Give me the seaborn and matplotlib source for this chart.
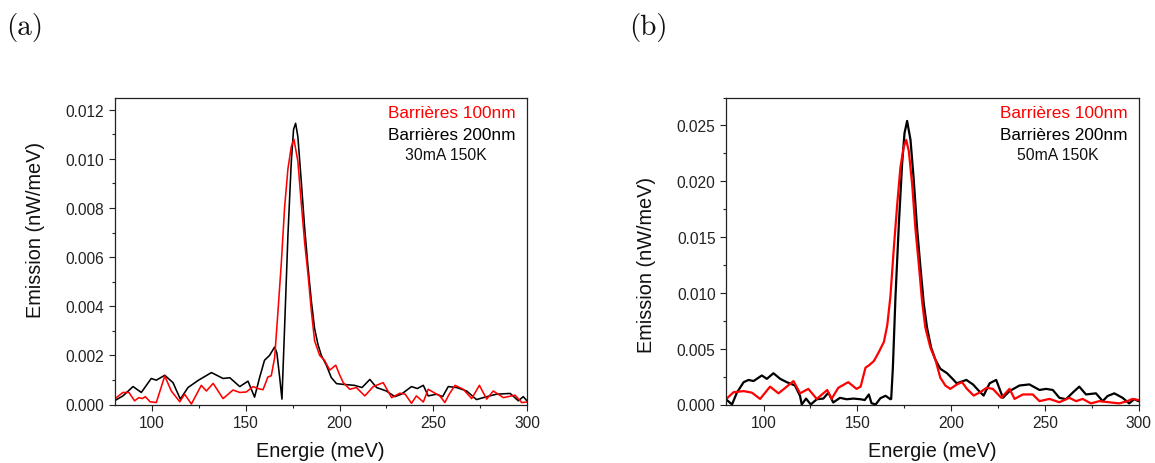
import numpy as np
import pandas as pd
import matplotlib
matplotlib.use("Agg")
import matplotlib.pyplot as plt
import seaborn as sns
from matplotlib.ticker import MultipleLocator, FormatStrFormatter

# ---------------- data ----------------
# Panel (a) 30mA 150K
a_e_200 = [80, 84.5, 89.9, 94.3, 99.6, 102.3, 106.8, 111.2, 115.1, 119.2, 124.6, 131.7, 137.9, 141.5,
           146.8, 151.2, 154.7, 157.4, 160, 162.7, 165.4, 166.6, 168.1, 169.3, 170.7, 172.5, 174.3,
           175.5, 176.6, 177.8, 179.6, 181.4, 183.2, 185, 186.7, 188.5, 190.3, 193, 195.6, 198.4, 202,
           208, 212, 216.2, 219.8, 225, 229.5, 233, 238.4, 241.5, 244.7, 247.3, 251.8, 255, 258, 262.5,
           267.8, 273.1, 278.5, 283.8, 291, 295.4, 298, 300]
a_v_200 = [0.00015, 0.00035, 0.00073, 0.00049, 0.00106, 0.00099, 0.00119, 0.00089, 0.00022, 0.00069,
           0.00098, 0.0013, 0.00106, 0.00109, 0.00073, 0.00095, 0.0003, 0.0011, 0.0018, 0.002, 0.00234,
           0.0021, 0.0011, 0.00022, 0.0031, 0.0069, 0.0099, 0.0112, 0.01145, 0.0109, 0.0091, 0.0072,
           0.0056, 0.0042, 0.0031, 0.00245, 0.002, 0.0016, 0.0011, 0.00085, 0.00082, 0.00078, 0.00069,
           0.00102, 0.00069, 0.00055, 0.00032, 0.00042, 0.00073, 0.00065, 0.00078, 0.00035, 0.00042,
           0.00032, 0.00073, 0.00069, 0.00055, 0.0002, 0.00032, 0.00042, 0.00045, 0.00015, 0.00032, 0.00015]
a_e_100 = [80, 84.5, 87.7, 90.7, 93, 94.8, 96.4, 99, 102.3, 106.8, 110.3, 114.8, 117.4, 121, 126.3, 129,
           132.6, 137.9, 143.2, 146.8, 150.3, 153.9, 156.5, 159.2, 161.8, 163.6, 165.4, 167.2, 169,
           170.7, 172.5, 174.3, 175.7, 177.8, 179.6, 181.4, 183.2, 185, 186.7, 189.4, 192, 194.8, 198,
           200.1, 202, 205.5, 209, 213.5, 218, 223.3, 227.8, 232.2, 235, 238.4, 241, 244.7, 247.3, 250.9,
           253.5, 256.2, 258.5, 261.6, 266, 270.5, 274.6, 278.5, 282, 287.4, 293.6, 297.2, 300]
a_v_100 = [0.00022, 0.00049, 0.00049, 0.00015, 0.00028, 0.00024, 0.00032, 0.00011, 0.00008, 0.00116,
           0.00055, 0.00011, 0.00042, 0.00002, 0.00078, 0.00055, 0.00086, 0.00024, 0.00059, 0.00049,
           0.00051, 0.00073, 0.00065, 0.0006, 0.00112, 0.00117, 0.0019, 0.0038, 0.0058, 0.008, 0.0096,
           0.0105, 0.0108, 0.0099, 0.0082, 0.0066, 0.0053, 0.0038, 0.0026, 0.002, 0.0018, 0.0014, 0.0016,
           0.0012, 0.00089, 0.00062, 0.00069, 0.00035, 0.00073, 0.00089, 0.00028, 0.00046, 0.00042,
           0.00005, 0.00035, 0.0001, 0.00062, 0.00046, 0.00035, 0.00008, 0.00042, 0.00078, 0.00062,
           0.00024, 0.00078, 0.00022, 0.00055, 0.00028, 0.00038, 0.00008, 0.0001]

# Panel (b) 50mA 150K
b_e_200 = [80, 83.2, 85.8, 89.4, 92, 94.7, 99.1, 101.8, 105.3, 108.9, 112.4, 116.8, 119.5, 120.4, 122.7,
           125.2, 128.4, 131.9, 134.6, 137.2, 140.8, 144.3, 148, 151.8, 154, 156.2, 157.6, 159.8, 162.4,
           165.1, 167.7, 168.1, 169, 170.4, 172.2, 173.9, 175.2, 176.6, 178.4, 180.1, 181.9, 183.7,
           185.5, 187.2, 189.4, 191.7, 194.3, 197.9, 201.4, 203, 208.2, 211.7, 215, 217.4, 220.6, 224.1,
           227.7, 231.2, 236.5, 241.8, 247.2, 250.7, 254.3, 257.8, 261.3, 264.9, 268.4, 272, 277.3,
           280.9, 283.5, 287.1, 291.5, 295, 297.7, 300]
b_v_200 = [0.00047, 0.0, 0.00106, 0.002, 0.0022, 0.0021, 0.0026, 0.0023, 0.0028, 0.0023, 0.002, 0.0017,
           0.00076, 0.0, 0.00053, 0.0, 0.00047, 0.00053, 0.00106, 0.00018, 0.0006, 0.00047, 0.00053,
           0.00047, 0.0004, 0.0009, 0.00012, 0.0, 0.00057, 0.00078, 0.00047, 0.0005, 0.0033, 0.0097,
           0.0162, 0.0215, 0.0243, 0.0254, 0.0237, 0.0202, 0.0158, 0.0123, 0.009, 0.0069, 0.0051, 0.004,
           0.0032, 0.0028, 0.0022, 0.0019, 0.0022, 0.0018, 0.0012, 0.0008, 0.0019, 0.0022, 0.0006, 0.0012,
           0.0017, 0.0018, 0.0013, 0.0014, 0.0013, 0.0006, 0.00047, 0.00106, 0.0016, 0.0009, 0.001,
           0.0003, 0.00076, 0.001, 0.0006, 0.0001, 0.00047, 0.0003]
b_e_100 = [80, 84, 89.4, 93.8, 98.2, 103.5, 108, 112.4, 116, 119.5, 123.9, 128.4, 134, 136.3, 139.9, 145.2,
           149.6, 151.8, 154.4, 156.2, 158.9, 161.5, 164.2, 166, 167.7, 169.5, 171.3, 173, 174.8, 176.1,
           177.5, 179.3, 181, 182.8, 184.6, 186.3, 189, 191.7, 194.3, 197, 199.6, 203.2, 205.9, 208.5,
           212.1, 215.6, 219, 222.3, 226.8, 231.2, 233.9, 238.3, 243.6, 247.2, 252.5, 257.8, 263.1,
           266.7, 270.2, 274.6, 279.1, 284.4, 289.7, 294.1, 296.8, 300]
b_v_100 = [0.00047, 0.0011, 0.0012, 0.00106, 0.0005, 0.0016, 0.001, 0.0016, 0.0021, 0.001, 0.0014,
           0.0005, 0.0013, 0.0005, 0.0015, 0.002, 0.0014, 0.0016, 0.0033, 0.0035, 0.0039, 0.0047,
           0.0056, 0.0071, 0.0097, 0.014, 0.0179, 0.0212, 0.0231, 0.0237, 0.0227, 0.0197, 0.0158,
           0.0126, 0.0092, 0.0069, 0.0051, 0.004, 0.0024, 0.0017, 0.0014, 0.0018, 0.002, 0.0014, 0.0008,
           0.0011, 0.0015, 0.0014, 0.0006, 0.0014, 0.0005, 0.0009, 0.0009, 0.0003, 0.0005, 0.0002,
           0.0006, 0.0003, 0.0005, 0.0001, 0.0003, 0.0002, 0.0001, 0.0003, 0.0005, 0.0004]

series_names = ["Barrières 100nm", "Barrières 200nm"]
series_colors = ["#ff0000", "#000000"]
conditions = ["30mA 150K", "50mA 150K"]
panel_labels = ["(a)", "(b)"]
x_label = "Energie (meV)"
y_label = "Emission (nW/meV)"

# ---------------- style ----------------
sns.set_theme(style="ticks")
plt.rcParams["font.family"] = ["Liberation Sans", "DejaVu Sans"]
plt.rcParams.update({
    "xtick.direction": "out", "ytick.direction": "out",
    "xtick.major.size": 4.3, "ytick.major.size": 4.3,
    "xtick.minor.size": 2.3, "ytick.minor.size": 2.3,
    "xtick.major.width": 0.8, "ytick.major.width": 0.8,
    "xtick.minor.width": 0.8, "ytick.minor.width": 0.8,
    "xtick.color": "#222222", "ytick.color": "#222222",
    "xtick.labelcolor": "#222222", "ytick.labelcolor": "#222222",
    "axes.edgecolor": "#222222", "axes.linewidth": 0.9,
})

fig = plt.figure(figsize=(11.55, 4.64), dpi=100)
W, H = 1155, 464

panels = [
    dict(left=114.5, ylim=0.0125, ymaj=0.002, ymin=0.001, lw=1.15,
         e100=a_e_100, v100=a_v_100, e200=a_e_200, v200=a_v_200, ylab_y=0.572, fmt="%.3f"),
    dict(left=726.0, ylim=0.0275, ymaj=0.005, ymin=0.0025, lw=1.6,
         e100=b_e_100, v100=b_v_100, e200=b_e_200, v200=b_v_200, ylab_y=0.458, fmt="%.3f"),
]

ax_w = 412.5
ax_top, ax_bot = 98.5, 405.5
for i, p in enumerate(panels):
    ax = fig.add_axes([p["left"] / W, (H - ax_bot) / H, ax_w / W, (ax_bot - ax_top) / H])
    df = pd.concat([
        pd.DataFrame({"E": p["e200"], "v": p["v200"], "serie": series_names[1]}),
        pd.DataFrame({"E": p["e100"], "v": p["v100"], "serie": series_names[0]}),
    ])
    sns.lineplot(data=df, x="E", y="v", hue="serie",
                 palette={series_names[0]: series_colors[0], series_names[1]: series_colors[1]},
                 hue_order=[series_names[1], series_names[0]],
                 estimator=None, sort=False, linewidth=p["lw"], legend=False, ax=ax)
    ax.set_xlim(80, 300)
    ax.set_ylim(0, p["ylim"])
    ax.xaxis.set_major_locator(MultipleLocator(50))
    ax.xaxis.set_minor_locator(MultipleLocator(25))
    ax.yaxis.set_major_locator(MultipleLocator(p["ymaj"]))
    ax.yaxis.set_minor_locator(MultipleLocator(p["ymin"]))
    ax.yaxis.set_major_formatter(FormatStrFormatter(p["fmt"]))
    ax.tick_params(axis="both", which="major", labelsize=11.2, pad=3.2)
    for s in ax.spines.values():
        s.set_visible(True)
    ax.set_xlabel(x_label, fontsize=14.3, color="#111111")
    ax.set_ylabel(y_label, fontsize=14.3, color="#111111")
    ax.xaxis.set_label_coords(0.5, -46 / (ax_bot - ax_top), transform=ax.transAxes)
    ax.yaxis.label.set_va("center")
    ax.yaxis.set_label_coords(-79 / ax_w, p["ylab_y"], transform=ax.transAxes)
    ax.xaxis.label.set_va("center")

    ax.text(0.973, 0.952, series_names[0], color=series_colors[0], fontsize=12.4,
            ha="right", va="center", transform=ax.transAxes)
    ax.text(0.973, 0.881, series_names[1], color=series_colors[1], fontsize=12.4,
            ha="right", va="center", transform=ax.transAxes)
    ax.text(0.804, 0.814, conditions[i], color="#111111", fontsize=11.3,
            ha="center", va="center", transform=ax.transAxes)

fig.text(25 / W, 1 - 28 / H, panel_labels[0], fontname="cmr10", fontsize=21,
         ha="center", va="center", color="#111111")
fig.text(648 / W, 1 - 28 / H, panel_labels[1], fontname="cmr10", fontsize=21,
         ha="center", va="center", color="#111111")

fig.savefig("out.png", dpi=100, facecolor="white")
